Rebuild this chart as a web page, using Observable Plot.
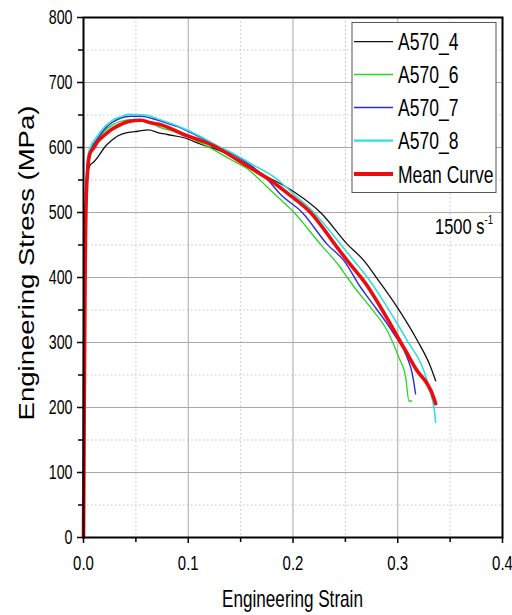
<!DOCTYPE html>
<html>
<head>
<meta charset="utf-8">
<script src="https://cdn.jsdelivr.net/npm/d3@7"></script>
<script src="https://cdn.jsdelivr.net/npm/@observablehq/plot@0.6"></script>
<style>
  html, body { margin: 0; padding: 0; background: white; }
</style>
</head>
<body>
<div id="chart"></div>
<script>
// ---- data (strain, stress MPa) ----
const a570_4 = [[0,0],[0.001,280],[0.002,470],[0.003,545],[0.006,572],[0.010,578],[0.014,586],[0.020,600],[0.027,611],[0.033,618],[0.042,623],[0.052,625],[0.062,627],[0.071,623],[0.080,620],[0.096,615],[0.112,605],[0.130,595],[0.145,584],[0.160,570],[0.169,560],[0.185,547],[0.2008,532],[0.2263,500],[0.252,451],[0.2677,426],[0.2805,398],[0.2996,354],[0.3187,303],[0.3315,262],[0.3362,241]];
const a570_6 = [[0,0],[0.001,300],[0.002,500],[0.004,580],[0.008,600],[0.014,613],[0.020,625],[0.027,634],[0.035,640],[0.045,643],[0.055,642],[0.065,637],[0.073,631],[0.085,625],[0.100,617],[0.112,607],[0.125,596],[0.140,582],[0.159,564],[0.169,549],[0.186,523],[0.1992,503],[0.2263,451],[0.2454,415],[0.2518,400],[0.261,380],[0.274,354],[0.290,318],[0.301,277],[0.3076,246],[0.3107,210],[0.313,210]];
const a570_7 = [[0,0],[0.001,300],[0.002,500],[0.004,580],[0.008,600],[0.014,615],[0.020,628],[0.027,638],[0.035,645],[0.045,648],[0.055,648],[0.065,645],[0.075,640],[0.090,632],[0.100,625],[0.115,613],[0.130,600],[0.145,588],[0.160,572],[0.175,552],[0.188,528],[0.2088,500],[0.2327,451],[0.2486,426],[0.2645,385],[0.274,364],[0.2964,313],[0.309,277],[0.314,251],[0.317,221]];
const a570_8 = [[0,0],[0.0005,30],[0.001,300],[0.002,500],[0.004,585],[0.0077,605],[0.012,615],[0.018,628],[0.027,641],[0.035,647],[0.043,651],[0.059,650],[0.071,644],[0.085,636],[0.100,626],[0.115,614],[0.130,601],[0.145,589],[0.160,575],[0.185,551],[0.2008,528],[0.220,500],[0.2454,451],[0.258,426],[0.272,398],[0.290,354],[0.309,303],[0.325,256],[0.3315,221],[0.3346,200],[0.3362,177]];
const meanCurve = [[0,0],[0.0007,200],[0.0015,400],[0.003,540],[0.006,590],[0.010,600],[0.014,610],[0.020,619],[0.027,628],[0.035,635],[0.043,640],[0.055,642],[0.064,638],[0.071,636],[0.085,628],[0.0956,620],[0.110,612],[0.1275,600],[0.143,585],[0.160,568],[0.178,550],[0.1976,526],[0.2167,500],[0.2423,446],[0.2518,426],[0.271,387],[0.2837,354],[0.3076,287],[0.3187,256],[0.3283,236],[0.333,221],[0.3362,206]];

const seriesNames = ["A570_4", "A570_6", "A570_7", "A570_8", "Mean Curve"];
const seriesData = [a570_4, a570_6, a570_7, a570_8, meanCurve];
const seriesColors = ["#111111", "#22d822", "#2a2ae0", "#2ee0e0", "#ee0b0b"];
const seriesWidths = [1.3, 1.3, 1.4, 1.6, 3.6];
const legendWidths = [1.2, 1.3, 1.5, 2.2, 4];

const xMajorTicks = [0, 0.1, 0.2, 0.3, 0.4];
const xMinorTicks = [0.05, 0.15, 0.25, 0.35];
const yMajorTicks = [0, 100, 200, 300, 400, 500, 600, 700, 800];
const yMinorTicks = [50, 150, 250, 350, 450, 550, 650, 750];

const xTitle = "Engineering Strain";
const yTitle = "Engineering Stress (MPa)";
const rateLabel = "1500 s";
const rateExp = "-1";

const FONT = "'Liberation Sans', Arial, Helvetica, sans-serif";
const SQ = 0.73; // horizontal squeeze of text as in the reference

const table = seriesData.flatMap((arr, i) => arr.map(([s, v]) => ({series: seriesNames[i], strain: s, stress: v})));

const lineMarks = seriesNames.map((name, i) =>
  Plot.line(table.filter(d => d.series === name), {
    x: "strain", y: "stress", stroke: seriesColors[i], strokeWidth: seriesWidths[i],
    curve: "monotone-x", strokeLinejoin: "round", strokeLinecap: "round"
  })
);

const svg = Plot.plot({
  width: 512,
  height: 615,
  marginLeft: 83,
  marginRight: 10,
  marginTop: 17,
  marginBottom: 78,
  style: {fontFamily: FONT, background: "white", color: "black"},
  x: {domain: [0, 0.4]},
  y: {domain: [0, 800]},
  marks: [
    Plot.ruleX(xMinorTicks, {stroke: "#c4c4c4", strokeDasharray: "1.5,2.5", strokeWidth: 1}),
    Plot.ruleY(yMinorTicks, {stroke: "#c4c4c4", strokeDasharray: "1.5,2.5", strokeWidth: 1}),
    Plot.ruleX(xMajorTicks, {stroke: "#a8a8a8", strokeWidth: 1}),
    Plot.ruleY(yMajorTicks, {stroke: "#a8a8a8", strokeWidth: 1}),
    ...lineMarks,
    Plot.axisX(xMajorTicks, {tickSize: 6, tickPadding: 12, tickFormat: d3.format(".1f"), fontSize: 20.5, label: null, strokeWidth: 1.5}),
    Plot.axisX(xMinorTicks, {tickSize: 5, tickFormat: () => "", label: null, strokeWidth: 1.5}),
    Plot.axisY(yMajorTicks, {tickSize: 6, tickPadding: 5, tickFormat: d3.format("d"), fontSize: 19.5, label: null, strokeWidth: 1.5}),
    Plot.axisY(yMinorTicks, {tickSize: 5, tickFormat: () => "", label: null, strokeWidth: 1.5}),
    Plot.frame({stroke: "black", strokeWidth: 2})
  ]
});

const root = d3.select(svg);
// squeeze tick labels horizontally
root.selectAll('g[aria-label="x-axis tick label"] text, g[aria-label="y-axis tick label"] text').each(function() {
  const t = this.getAttribute("transform") || "";
  this.setAttribute("transform", t + ` scale(${SQ},1)`);
});

// axis titles
root.append("text")
  .attr("transform", `translate(292.5,607) scale(0.745,1)`)
  .attr("text-anchor", "middle")
  .attr("font-size", 23)
  .attr("font-family", FONT)
  .attr("fill", "black")
  .text(xTitle);

root.append("text")
  .attr("transform", `translate(34,263) rotate(-90) scale(1,0.78)`)
  .attr("text-anchor", "middle")
  .attr("font-size", 27.5)
  .attr("font-family", FONT)
  .attr("fill", "black")
  .text(yTitle);

// legend
const lg = root.append("g");
lg.append("rect").attr("x", 352).attr("y", 22.5).attr("width", 144).attr("height", 170)
  .attr("fill", "white").attr("stroke", "#555").attr("stroke-width", 1);
const rowY = [41.7, 74.5, 107.5, 140.7, 174];
seriesNames.forEach((name, i) => {
  lg.append("line").attr("x1", 354).attr("x2", 393).attr("y1", rowY[i]).attr("y2", rowY[i])
    .attr("stroke", seriesColors[i]).attr("stroke-width", legendWidths[i]);
  lg.append("text")
    .attr("transform", `translate(398,${rowY[i] + 8.5}) scale(${SQ},1)`)
    .attr("text-anchor", "start")
    .attr("font-size", 24)
    .attr("font-family", FONT)
    .attr("fill", "black")
    .text(name);
});

// strain-rate annotation
const rt = root.append("text")
  .attr("transform", `translate(435,234) scale(0.75,1)`)
  .attr("text-anchor", "start")
  .attr("font-size", 22)
  .attr("font-family", FONT)
  .attr("fill", "black");
rt.append("tspan").text(rateLabel);
rt.append("tspan").attr("font-size", 12.5).attr("dy", -10).text(rateExp);

document.getElementById("chart").appendChild(svg);
</script>
</body>
</html>
